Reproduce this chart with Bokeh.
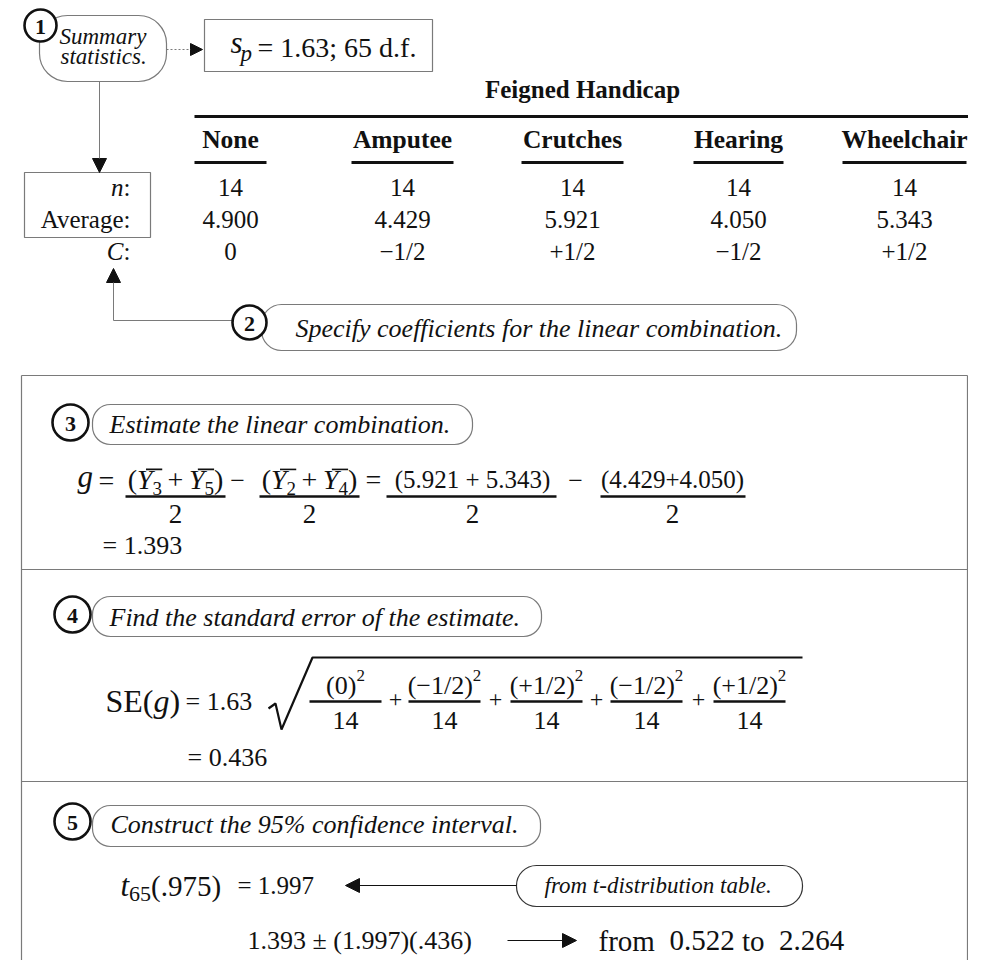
from bokeh.plotting import figure
from bokeh.models import Range1d, Arrow, NormalHead
from bokeh.core.properties import value
from bokeh.embed import file_html
from bokeh.resources import INLINE

# ---- data ----
categories = ["None", "Amputee", "Crutches", "Hearing", "Wheelchair"]
n_values = [14, 14, 14, 14, 14]
averages = [4.900, 4.429, 5.921, 4.050, 5.343]
coef_labels = ["0", "\u22121/2", "+1/2", "\u22121/2", "+1/2"]
coef_sq = ["(0)", "(\u22121/2)", "(+1/2)", "(\u22121/2)", "(+1/2)"]
sp_value = "1.63"
df_value = "65"
g_value = "1.393"
se_value = "0.436"
t_value = "1.997"
ci_low = "0.522"
ci_high = "2.264"

# ---- canvas (data units == page pixels) ----
W, H = 968, 960
p = figure(width=W, height=H, x_range=Range1d(8, 8 + W), y_range=Range1d(8 + H, 8),
           output_backend="svg", toolbar_location=None, min_border=0,
           x_axis_location=None, y_axis_location=None)
p.grid.visible = False
p.outline_line_color = None
p.background_fill_color = "white"

SERIF = value("Liberation Serif")
GRAY = "#7a7a7a"
INK = "#111111"

ROMAN = {' ': 250, '(': 333, ')': 333, '+': 564, '=': 564, '\u2212': 564, '/': 278,
         '.': 250, ';': 278, ':': 278, 'S': 556, 'E': 611, 'd': 500, 'f': 333,
         'r': 333, 'o': 500, 'm': 778, 't': 278}
ITALIC = {'Y': 556, 'g': 500, 't': 278, 's': 389, 'p': 500, 'n': 500, 'C': 667}


def width(s, style, size):
    tab = ITALIC if style == "italic" else ROMAN
    return sum(tab.get(c, 500) for c in s) * size / 1000.0


def txt(x, y, s, size=20, style="normal", align="left", color=INK):
    p.text(x=[x], y=[y], text=[s], text_font=SERIF, text_font_size=f"{size}px",
           text_font_style=style, text_align=align, text_baseline="middle",
           text_color=color)


def seg(x0, y0, x1, y1, w=1.0, color=INK, dash="solid"):
    p.segment(x0=[x0], y0=[y0], x1=[x1], y1=[y1], line_width=w, line_color=color,
              line_dash=dash)


def compose(x, ym, pieces, align="left"):
    """pieces: (text, style, size, dy, overbar); blank pieces only advance."""
    total = sum(width(s, st, sz) for s, st, sz, dy, bar in pieces)
    if align == "center":
        x -= total / 2
    elif align == "right":
        x -= total
    for s, st, sz, dy, bar in pieces:
        if s.strip():
            txt(x, ym + dy, s, sz, st, "left")
        if bar:
            yb = ym + dy - 0.36 * sz
            seg(x + 0.32 * sz, yb, x + 0.9 * sz, yb, 1.6)
        x += width(s, st, sz)
    return total


def rbox(l, t, r, b, radius, color=GRAY, w=1.2):
    p.quad(left=[l], right=[r], top=[t], bottom=[b], fill_color=None,
           line_color=color, line_width=w, border_radius=radius)


def circ(x, y, label, size=36):
    p.scatter([x], [y], marker="circle", size=size, fill_color="white",
              line_color=INK, line_width=2.6)
    txt(x, y + 1, label, 22, "bold", "center")


def arrow(x0, y0, x1, y1, color=INK, w=1.0, size=13, dash="solid"):
    p.add_layout(Arrow(end=NormalHead(size=size, fill_color=INK, line_color=INK),
                       x_start=x0, y_start=y0, x_end=x1, y_end=y1,
                       line_color=color, line_width=w, line_dash=dash))


# ---- step 1 ----
rbox(47, 23, 174, 89, 28)
circ(48, 33, "1", 32)
txt(67, 44, "Summary", 23, "italic")
txt(68, 64, "statistics.", 23, "italic")
arrow(174, 57, 210, 57, color=GRAY, dash="2 2", size=12)
rbox(212, 27, 440, 79, 0)
txt(238, 50, "s", 31, "italic")
txt(248, 61, "p", 23, "italic")
txt(265, 55, f"= {sp_value}; {df_value} d.f.", 28)

arrow(107, 89, 107, 180, color=GRAY, size=14)
rbox(32, 180, 158, 245, 0)

# ---- table ----
col_x = [238, 410, 580, 746, 912]
ul_half = [36, 51, 51, 45, 62]
row_y = [195, 227, 259]
txt(590, 97, "Feigned Handicap", 25, "bold", "center")
seg(202, 124, 976, 124, 3)
for x, c, hw in zip(col_x, categories, ul_half):
    txt(x, 147, c, 25.5, "bold", "center")
    seg(x - hw, 170, min(x + hw, 976), 170, 3)
for x, nv, av, cl in zip(col_x, n_values, averages, coef_labels):
    txt(x, row_y[0], str(nv), 25, "normal", "center")
    txt(x, row_y[1], f"{av:.3f}", 25, "normal", "center")
    txt(x, row_y[2], cl, 25, "normal", "center")
txt(138, row_y[0], ":", 25, "normal", "right")
txt(131, row_y[0], "n", 25, "italic", "right")
txt(138, row_y[1], "Average:", 25, "normal", "right")
txt(138, row_y[2], ":", 25, "normal", "right")
txt(131, row_y[2], "C", 25, "italic", "right")

# ---- step 2 ----
seg(121, 328, 242, 328, 1.2, GRAY)
arrow(121, 328, 121, 276, color=GRAY, size=14)
rbox(269, 312, 804, 358, 20)
circ(257, 330, "2", 34)
txt(303, 336, "Specify coefficients for the linear combination.", 26, "italic")

# ---- outer frame ----
seg(29, 383, 975, 383, 1.2, GRAY)
seg(29, 383, 29, 968, 1.2, GRAY)
seg(975, 383, 975, 968, 1.2, GRAY)
seg(29, 577, 975, 577, 1.2, GRAY)
seg(29, 789, 975, 789, 1.2, GRAY)

# ---- step 3 ----
rbox(100, 412, 480, 452, 18)
circ(78, 430, "3")
txt(117, 432, "Estimate the linear combination.", 26, "italic")
txt(85, 484, "g", 31, "italic")
txt(114, 488, "=", 28, "normal", "center")
NUM = 487
BAR = 504
DEN = 521
for cx, a, b in [(183, "3", "5"), (317, "2", "4")]:
    compose(cx, NUM, [("(", "normal", 28, 0, False), ("Y", "italic", 28, 0, True),
                      (a, "normal", 19, 9, False), (" ", "normal", 22, 0, False),
                      ("+", "normal", 28, 0, False), (" ", "normal", 22, 0, False),
                      ("Y", "italic", 28, 0, True), (b, "normal", 19, 9, False),
                      (")", "normal", 28, 0, False)], "center")
txt(480, NUM, "(5.921 + 5.343)", 25, "normal", "center")
txt(680, NUM, "(4.429+4.050)", 25, "normal", "center")
for cx, l, r in [(183, 133, 233), (317, 267, 367), (480, 394, 564), (680, 608, 753)]:
    seg(l, BAR, r, BAR, 2.6)
    txt(cx, DEN, "2", 27, "normal", "center")
txt(245, 488, "\u2212", 26, "normal", "center")
txt(381, 487, "=", 28, "normal", "center")
txt(583, 488, "\u2212", 26, "normal", "center")
txt(110, 553, f"= {g_value}", 26)

# ---- step 4 ----
rbox(100, 604, 549, 644, 18)
circ(80, 622, "4")
txt(117, 625, "Find the standard error of the estimate.", 26, "italic")
compose(113, 708, [("SE(", "normal", 32, 0, False), ("g", "italic", 32, 0, False),
                   (")", "normal", 32, 0, False)])
txt(193, 709, f"= {sp_value}", 26)
p.line(x=[276, 283, 289, 320, 810], y=[716, 711, 737, 665, 665], line_width=2.2,
       line_color=INK)
sq_x = [353, 452, 554, 654, 757]
for cx, lab, nv in zip(sq_x, coef_sq, n_values):
    compose(cx, 693, [(lab, "normal", 26, 0, False), ("2", "normal", 17, -10, False)],
            "center")
    seg(cx - 36, 709, cx + 36, 709, 2.4)
    txt(cx, 728, str(nv), 26, "normal", "center")
for px in [403, 503, 604, 706]:
    txt(px, 707, "+", 24, "normal", "center")
txt(195, 765, f"= {se_value}", 26)

# ---- step 5 ----
rbox(100, 813, 548, 854, 18)
circ(80, 829, "5")
txt(118, 832, "Construct the 95% confidence interval.", 26, "italic")
compose(128, 893, [("t", "italic", 31, 0, False), (df_value, "normal", 22, 8, False),
                   ("(.975)", "normal", 29, 0, False)])
txt(245, 893, f"= {t_value}", 25)
arrow(524, 893, 353, 893, size=14)
rbox(524, 873, 810, 914, 20, color="#333333")
txt(552, 893, "from t-distribution table.", 23, "italic")
txt(255, 948, f"{g_value} \u00b1 ({t_value})(.436)", 26)
arrow(515, 948, 584, 948, size=14)
compose(606, 948, [("from", "normal", 29, 0, False), ("  ", "normal", 29, 0, False),
                   (ci_low, "normal", 29, 0, False), (" ", "normal", 29, 0, False),
                   ("to", "normal", 29, 0, False), ("  ", "normal", 29, 0, False),
                   (ci_high, "normal", 29, 0, False)])

open("out.html", "w").write(file_html(p, INLINE))
